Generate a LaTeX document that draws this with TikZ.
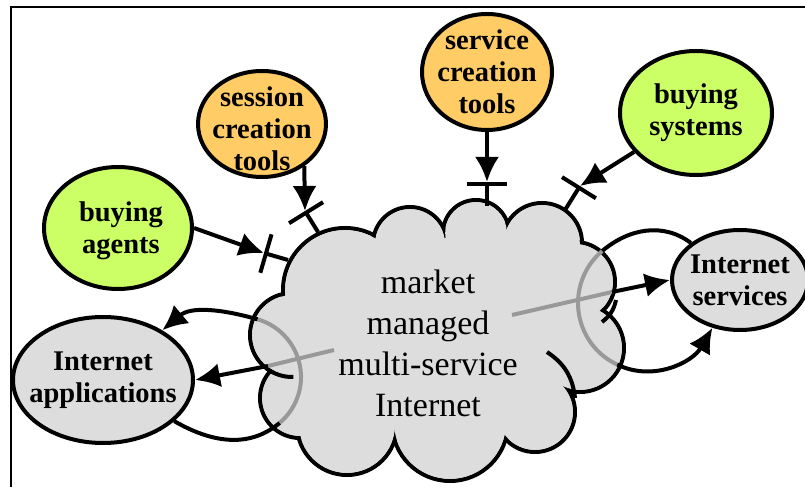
\documentclass[tikz,border=0pt]{standalone}
\usepackage{fontspec}
\setmainfont{Liberation Serif}
\usetikzlibrary{positioning,calc}
\usetikzlibrary{arrows.meta,shapes.geometric}
\definecolor{BuyGreen}{RGB}{204,255,102}
\definecolor{ToolOrange}{RGB}{255,204,102}
\definecolor{NetGrey}{RGB}{221,221,221}
\definecolor{ShadeGrey}{RGB}{153,153,153}
\tikzset{blob/.style={ellipse,draw=black,line width=4pt,inner sep=0pt}, lab/.style={align=center,font=\bfseries\fontsize{28.5}{32}\selectfont}, feed/.style={line width=4pt,-{Latex[length=25pt,width=24pt]}}, barline/.style={line width=4pt,{Bar[width=40pt]}-}, ring/.style={draw=black,line width=4pt}, inside/.style={draw=ShadeGrey,line width=4pt}}

\begin{document}
\begin{tikzpicture}[x=1pt,y=1pt]
\useasboundingbox (0,0) rectangle (805,487);
\draw[line width=2pt] (11,0) -- (11,480) -- (805,480);
% cloud
\foreach \cx/\cy/\r in {476/254/33,542/244/40,575/205/40,580/139/44,535/75/40,450/64/58,347/62/50,300/89/40,292/152/42,345/197/62,410/243/37}
  \draw[line width=4pt,fill=NetGrey] (\cx,\cy) circle[radius=\r];
\foreach \cx/\cy/\r in {476/254/33,542/244/40,575/205/40,580/139/44,535/75/40,450/64/58,347/62/50,300/89/40,292/152/42,345/197/62,410/243/37}
  \fill[NetGrey] (\cx,\cy) circle[radius=\r-2.2];
\fill[NetGrey] (476,254) -- (542,244) -- (575,205) -- (580,139) -- (535,75) -- (450,64) -- (347,62) -- (300,89) -- (292,152) -- (345,197) -- (410,243) -- cycle;
\draw[line width=4pt] (547,135) to[bend left=25] (575,89);
\draw[line width=4pt] (602,165) to[bend right=20] (616,187);
\draw[line width=4pt] (292,152) ++(232:42) arc[start angle=232,end angle=272,radius=42];
\node[align=center,font=\fontsize{34}{41}\selectfont] (netT) at (428,144) {market\\managed\\multi-service\\Internet};
% outer nodes
\node[blob,fill=BuyGreen,minimum width=148pt,minimum height=122pt] (agents) at (118,259) {};
\node[blob,fill=ToolOrange,minimum width=128pt,minimum height=106pt] (session) at (262,363) {};
\node[blob,fill=ToolOrange,minimum width=130pt,minimum height=116pt] (service) at (487,415) {};
\node[blob,fill=BuyGreen,minimum width=152pt,minimum height=124pt] (buysys) at (696,374) {};
\node[blob,fill=NetGrey,minimum width=136pt,minimum height=100pt] (services) at (740,207) {};
\node[blob,fill=NetGrey,minimum width=180pt,minimum height=126pt] (apps) at (103,107) {};
\node[lab] (agentsT) at (121,256) {buying\\agents};
\node[lab] (sessionT) at (262,358) {session\\creation\\tools};
\node[lab] (serviceT) at (service) {service\\creation\\tools};
\node[lab] (buysysT) at (buysys) {buying\\systems};
\node[lab] (servicesT) at (services) {Internet\\services};
\node[lab] (appsT) at (apps) {Internet\\applications};
% inputs into the cloud
\coordinate (agTick) at (264,234);
\coordinate (agIn) at (288,227);
\coordinate (ssTick) at (305,276);
\coordinate (ssIn) at (318,255);
\coordinate (svTick) at (487,305);
\coordinate (svIn) at (487,281);
\coordinate (bsTick) at (580,301);
\coordinate (bsIn) at (565,277);
\draw[feed] (agents.east) -- (agTick);
\draw[barline] (agTick) -- (agIn);
\draw[feed] (session.-45) -- (ssTick);
\draw[barline] (ssTick) -- (ssIn);
\draw[feed] (service) -- (svTick);
\draw[barline] (svTick) -- (svIn);
\draw[feed] (buysys) -- (bsTick);
\draw[barline] (bsTick) -- (bsIn);
% loops out to the Internet nodes
\coordinate (rMid) at (646,184);
\coordinate (rTop) at ($(rMid)+(130:68)$);
\coordinate (rBot) at ($(rMid)+(245:68)$);
\coordinate (netR) at (512,172);
\coordinate (rEdge) at (612,195);
\coordinate (lMid) at (241,110);
\coordinate (lTop) at ($(lMid)+(74:60)$);
\coordinate (lBot) at ($(lMid)+(-50:60)$);
\coordinate (netL) at (334,137);
\coordinate (lEdge) at (268,121);
\draw[inside] (rTop) arc[start angle=130,end angle=245,radius=68];
\draw[inside] (netR) -- (rEdge);
\draw[inside] (lTop) arc[start angle=74,end angle=-50,radius=60];
\draw[inside] (netL) -- (lEdge);
\draw[feed] (rEdge) -- (services.west);
\draw[ring] (rTop) to[out=40,in=143] (services);
\draw[ring,-{Latex[length=25pt,width=24pt]}] (rBot) to[out=-26,in=240] (services);
\draw[feed] (lEdge) -- (apps.east);
\draw[feed] (lTop) to[out=164,in=40] (apps);
\draw[ring] (lBot) to[out=-140,in=-30] (apps);
\end{tikzpicture}
\end{document}
